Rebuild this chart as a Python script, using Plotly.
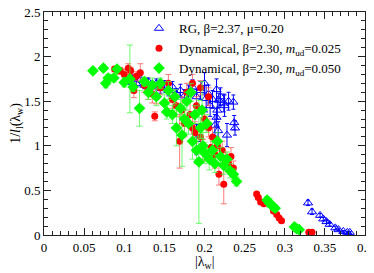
import plotly.graph_objects as go

# RG, beta=2.37, mu=0.20
rg_x = [0.105,0.110,0.115,0.120,0.125,0.130,0.135,0.140,0.145,0.150,0.155,0.160,0.165,0.170,0.175,0.180,0.185,0.190,0.195,0.200,0.205,0.210,0.215,0.220,0.225,0.230,0.236,0.218,0.224,0.216,0.237,0.238,0.228,0.202,0.207,0.215,0.213,0.217,0.190,
        0.329,0.334,0.344,0.348,0.352,0.356,0.363,0.367,0.373,0.378,0.381]
rg_y = [1.72,1.76,1.70,1.74,1.68,1.72,1.66,1.70,1.64,1.68,1.62,1.66,1.58,1.62,1.56,1.60,1.66,1.55,1.62,1.70,1.58,1.52,1.63,1.55,1.45,1.50,1.49,1.51,1.48,1.40,1.26,1.20,1.12,1.53,1.45,1.32,1.23,1.17,1.07,
        0.36,0.26,0.22,0.18,0.15,0.12,0.08,0.06,0.04,0.03,0.03]
rg_e = [0.03,0.03,0.04,0.03,0.04,0.04,0.05,0.05,0.05,0.05,0.06,0.06,0.06,0.07,0.07,0.08,0.08,0.08,0.10,0.12,0.10,0.10,0.12,0.10,0.12,0.10,0.08,0.08,0.10,0.10,0.08,0.08,0.13,0.15,0.12,0.10,0.12,0.10,0.17,
        0.03,0.03,0.02,0.02,0.02,0.02,0.02,0.01,0.01,0.01,0.01]

# Dynamical, beta=2.30, m_ud=0.025
d1_x = [0.088,0.095,0.100,0.105,0.108,0.112,0.115,0.120,0.125,0.130,0.135,0.140,0.145,0.138,0.155,0.160,0.165,0.169,0.172,0.175,0.178,0.182,0.185,0.188,0.190,0.195,0.198,0.200,0.205,0.208,0.210,0.213,0.216,0.218,0.222,0.226,0.230,0.233,0.236,0.195,0.205,0.185,0.224,
        0.265,0.267,0.270,0.274,0.286,0.290,0.293,0.296,0.330,0.334]
d1_y = [1.86,1.84,1.80,1.87,1.84,1.62,1.78,1.82,1.68,1.62,1.58,1.55,1.65,1.33,1.70,1.52,1.45,1.05,1.40,1.25,1.60,1.35,1.20,1.15,1.45,1.10,0.95,1.30,1.20,0.98,1.10,0.90,1.00,0.68,0.95,0.83,0.80,0.88,0.75,1.65,1.55,1.70,0.57,
        0.46,0.42,0.37,0.35,0.27,0.23,0.19,0.16,0.03,0.03]
d1_e = [0.03,0.04,0.06,0.05,0.04,0.08,0.05,0.10,0.08,0.10,0.10,0.08,0.08,0.05,0.10,0.10,0.12,0.30,0.15,0.15,0.10,0.15,0.15,0.12,0.10,0.15,0.12,0.10,0.10,0.10,0.10,0.15,0.10,0.12,0.10,0.10,0.10,0.10,0.08,0.08,0.10,0.10,0.22,
        0.02,0.02,0.02,0.02,0.02,0.02,0.02,0.02,0.01,0.01]

# Dynamical, beta=2.30, m_ud=0.050
d2_x = [0.061,0.074,0.077,0.080,0.087,0.091,0.100,0.107,0.111,0.119,0.125,0.130,0.135,0.140,0.145,0.150,0.153,0.155,0.160,0.163,0.165,0.170,0.172,0.175,0.178,0.180,0.183,0.185,0.188,0.190,0.193,0.195,0.198,0.200,0.203,0.206,0.210,0.213,0.216,0.220,0.224,0.228,0.232,0.236,0.240,0.197,
        0.278,0.281,0.284,0.288,0.312,0.315,0.318]
d2_y = [1.84,1.87,1.70,1.76,1.76,1.86,1.71,1.75,1.66,1.42,1.72,1.60,1.68,1.55,1.70,1.48,1.38,1.62,1.35,1.55,1.20,1.42,1.12,1.30,1.50,1.25,1.60,1.05,1.35,0.95,0.82,1.20,1.00,0.92,1.25,0.85,0.95,0.80,1.05,0.88,0.78,0.85,0.72,0.68,0.60,1.40,
        0.39,0.36,0.33,0.30,0.09,0.07,0.06]
d2_e = [0.03,0.03,0.05,0.04,0.04,0.03,0.05,0.38,0.05,0.20,0.05,0.08,0.08,0.10,0.06,0.10,0.08,0.10,0.10,0.08,0.20,0.10,0.35,0.15,0.10,0.12,0.10,0.20,0.10,0.15,0.69,0.12,0.15,0.12,0.10,0.12,0.10,0.10,0.10,0.10,0.10,0.08,0.08,0.06,0.05,0.32,
        0.04,0.05,0.04,0.04,0.02,0.02,0.01]

x_ticks = [0, 0.05, 0.1, 0.15, 0.2, 0.25, 0.3, 0.35, 0.4]
x_labels = ["0", "0.05", "0.1", "0.15", "0.2", "0.25", "0.3", "0.35", "0.4"]
y_ticks = [0, 0.5, 1, 1.5, 2, 2.5]
y_labels = ["0", "0.5", "1", "1.5", "2", "2.5"]
x_title = "|λ<sub>w</sub>|"
y_title = "1/<i>l</i><sub>l</sub>(λ<sub>w</sub>)"

FONT = "Liberation Serif"

fig = go.Figure()
fig.add_trace(go.Scatter(
    x=rg_x, y=rg_y, mode="markers", name="RG, β=2.37, μ=0.20",
    marker=dict(symbol="triangle-up-open", size=8, color="#0000ff", line=dict(width=1)),
    error_y=dict(type="data", array=rg_e, color="#0000ff", thickness=1, width=2),
))
fig.add_trace(go.Scatter(
    x=d1_x, y=d1_y, mode="markers", name="Dynamical, β=2.30, <i>m</i><sub>ud</sub>=0.025",
    marker=dict(symbol="circle", size=7, color="#ff0000"),
    error_y=dict(type="data", array=d1_e, color="rgba(255,80,80,0.75)", thickness=1, width=3),
))
fig.add_trace(go.Scatter(
    x=d2_x, y=d2_y, mode="markers", name="Dynamical, β=2.30, <i>m</i><sub>ud</sub>=0.050",
    marker=dict(symbol="diamond", size=9, color="#00ff00"),
    error_y=dict(type="data", array=d2_e, color="rgba(60,255,60,0.75)", thickness=1, width=3),
))

axis_common = dict(
    showline=True, linecolor="#222", linewidth=1, mirror="allticks",
    ticks="inside", ticklen=7, tickcolor="#222", tickwidth=1,
    showgrid=False, zeroline=False, automargin=False,
    ticklabeloverflow="allow",
    tickfont=dict(family=FONT, size=13, color="#000"),
)
fig.update_xaxes(
    range=[0, 0.4], tickvals=x_ticks, ticktext=x_labels,
    minor=dict(ticks="inside", dtick=0.01, ticklen=4, tickcolor="#222", showgrid=False),
    **axis_common,
)
fig.update_yaxes(
    range=[0, 2.5], tickvals=y_ticks, ticktext=y_labels,
    minor=dict(ticks="inside", dtick=0.1, ticklen=4, tickcolor="#222", showgrid=False),
    title=dict(text=y_title, font=dict(family=FONT, size=14, color="#000"), standoff=9),
    **axis_common,
)
fig.add_annotation(
    text=x_title, xref="paper", yref="paper", x=0.5, y=-0.078,
    xanchor="center", yanchor="top", showarrow=False,
    font=dict(family=FONT, size=14, color="#000"),
)
fig.update_layout(
    width=374, height=273,
    margin=dict(l=36, r=17, t=4, b=46),
    paper_bgcolor="white", plot_bgcolor="white",
    showlegend=True,
    legend=dict(x=0.296, y=0.994, xanchor="left", yanchor="top",
                bgcolor="rgba(0,0,0,0)", font=dict(family=FONT, size=13, color="#000"),
                tracegroupgap=0, itemwidth=30),
    font=dict(family=FONT),
)
fig.write_html("out.html")
